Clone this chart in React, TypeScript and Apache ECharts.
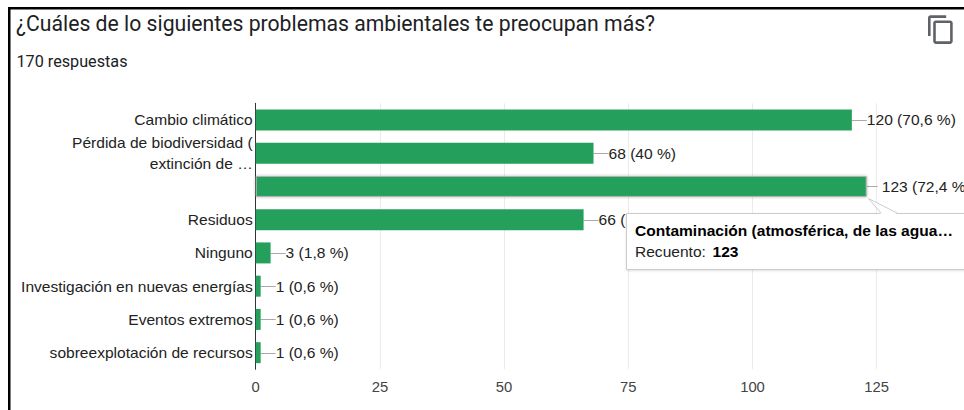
import React, { useEffect, useRef } from "react";
import * as echarts from "echarts";

const titleText = "¿Cuáles de lo siguientes problemas ambientales te preocupan más?";
const subtitleText = "170 respuestas";
const categories = [
  "Cambio climático",
  "Pérdida de biodiversidad (\nextinción de …",
  "",
  "Residuos",
  "Ninguno",
  "Investigación en nuevas energías",
  "Eventos extremos",
  "sobreexplotación de recursos",
];
const values = [120, 68, 123, 66, 3, 1, 1, 1];
const percents = ["70,6 %", "40 %", "72,4 %", "38,8 %", "1,8 %", "0,6 %", "0,6 %", "0,6 %"];
const tooltipTitle = "Contaminación (atmosférica, de las agua…";
const tooltipLabel = "Recuento:";
const tooltipValue = "123";
const highlighted = 2;

const copyIcon =
  "M16 1H4c-1.1 0-2 .9-2 2v14h2V3h12V1zm3 4H8c-1.1 0-2 .9-2 2v14c0 1.1.9 2 2 2h11c1.1 0 2-.9 2-2V7c0-1.1-.9-2-2-2zm0 16H8V7h11v14z";
echarts.graphic.registerShape("copyicon", echarts.graphic.extendPath(copyIcon, {}));

const ARIAL = "'Liberation Sans', Arial, sans-serif";
const GREEN = "#24a05c";
const LABEL_SIZE = 15.55;

export default function App() {
  const ref = useRef<HTMLDivElement>(null);
  useEffect(() => {
    document.body.style.margin = "0";
    document.body.style.overflow = "hidden";
    const chart = echarts.init(ref.current!, undefined, { renderer: "svg" });
    chart.setOption({
      animation: false,
      backgroundColor: "#ffffff",
      title: [
        {
          text: titleText,
          left: 16,
          top: 13,
          padding: 0,
          textStyle: { fontFamily: "Roboto", fontSize: 21.2, fontWeight: 400, color: "#202124" },
        },
        {
          text: subtitleText,
          left: 16.5,
          top: 53,
          padding: 0,
          textStyle: { fontFamily: "Roboto", fontSize: 16.2, fontWeight: 400, color: "#202124" },
        },
      ],
      grid: { left: 255.7, right: 87.3, top: 103.3, bottom: 40.7, containLabel: false },
      xAxis: {
        type: "value",
        min: 0,
        max: 125,
        interval: 25,
        axisLine: { show: false },
        axisTick: { show: false },
        splitLine: { show: true, lineStyle: { color: "#ebebeb", width: 1 } },
        axisLabel: { fontFamily: ARIAL, fontSize: 14.8, color: "#444444", margin: 10 },
      },
      yAxis: {
        type: "category",
        inverse: true,
        data: categories,
        axisTick: { show: false },
        axisLine: { show: true, lineStyle: { color: "#333333", width: 1 } },
        axisLabel: {
          interval: 0,
          margin: 3,
          fontFamily: ARIAL,
          fontSize: LABEL_SIZE,
          lineHeight: 21,
          color: "#222222",
        },
      },
      series: [
        {
          type: "custom",
          z: 1,
          silent: true,
          data: values.map((v, i) => [v, i]),
          encode: { x: 0, y: 1 },
          renderItem: (_p: any, api: any) => {
            const idx = api.value(1);
            const [x, y] = api.coord([api.value(0), idx]);
            const len = idx === highlighted ? 11 : 15;
            return {
              type: "line",
              shape: { x1: x, y1: Math.round(y) + 0.5, x2: x + len, y2: Math.round(y) + 0.5 },
              style: { stroke: "#aaaaaa", lineWidth: 1 },
            };
          },
        },
        {
          type: "bar",
          z: 3,
          barWidth: 21,
          silent: true,
          data: values.map((v, i) =>
            i === highlighted
              ? {
                  value: v,
                  itemStyle: {
                    color: GREEN,
                    borderColor: "#b4b4b4",
                    borderWidth: 1,
                    shadowBlur: 3,
                    shadowColor: "rgba(0,0,0,0.3)",
                  },
                }
              : { value: v }
          ),
          itemStyle: { color: GREEN },
          label: {
            show: true,
            position: "right",
            distance: 15,
            fontFamily: ARIAL,
            fontSize: LABEL_SIZE,
            color: "#222222",
            formatter: (p: any) => `${values[p.dataIndex]} (${percents[p.dataIndex]})`,
          },
        },
      ],
      graphic: [
        { type: "rect", z: 200, shape: { x: 8, y: 7, width: 956, height: 2.5 }, style: { fill: "#000" } },
        { type: "rect", z: 200, shape: { x: 8, y: 7, width: 2.5, height: 403 }, style: { fill: "#000" } },
        {
          type: "copyicon",
          z: 200,
          x: 925.4,
          y: 14,
          scaleX: 1.3,
          scaleY: 1.3,
          style: { fill: "#5f6368" },
        },
        {
          type: "rect",
          z: 100,
          shape: { x: 626.5, y: 213.5, width: 400, height: 56 },
          style: { fill: "#fff", stroke: "#cccccc", lineWidth: 1, shadowBlur: 2, shadowColor: "rgba(0,0,0,0.12)", shadowOffsetY: 1 },
        },
        {
          type: "polygon",
          z: 101,
          shape: { points: [[868.5, 198], [881, 214], [897, 214]] },
          style: { fill: "#fff" },
        },
        {
          type: "polyline",
          z: 102,
          shape: { points: [[881, 213], [868.5, 198.5], [897, 213]] },
          style: { stroke: "#cccccc", fill: "none", lineWidth: 1 },
        },
        {
          type: "text",
          z: 103,
          x: 635,
          y: 230,
          style: { text: tooltipTitle, fontFamily: ARIAL, fontSize: LABEL_SIZE, fontWeight: "bold", fill: "#000", verticalAlign: "middle" },
        },
        {
          type: "text",
          z: 103,
          x: 635,
          y: 251,
          style: { text: tooltipLabel, fontFamily: ARIAL, fontSize: LABEL_SIZE, fill: "#222", verticalAlign: "middle" },
        },
        {
          type: "text",
          z: 103,
          x: 712.5,
          y: 251,
          style: { text: tooltipValue, fontFamily: ARIAL, fontSize: LABEL_SIZE, fontWeight: "bold", fill: "#000", verticalAlign: "middle" },
        },
      ],
    });
    return () => chart.dispose();
  }, []);
  return <div ref={ref} style={{ position: "absolute", left: 0, top: 0, width: 964, height: 410 }} />;
}
